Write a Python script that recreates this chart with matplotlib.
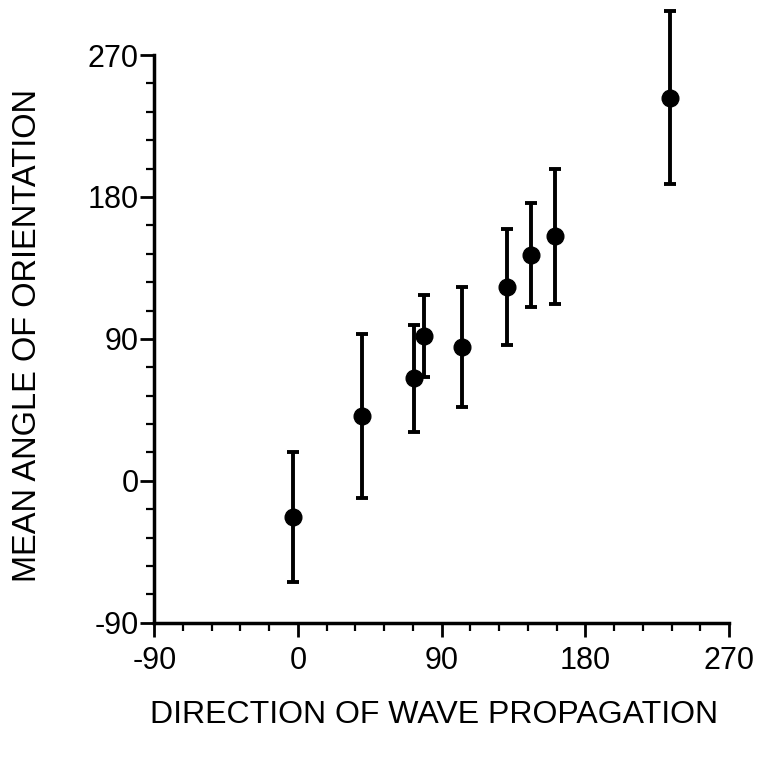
import numpy as np
import matplotlib.pyplot as plt
from matplotlib.ticker import MultipleLocator

# direction of wave propagation (deg) vs mean angle of orientation (deg)
direction = [-3, 40, 73, 79, 103, 131, 146, 161, 233]
mean_angle = [-23, 41, 65, 92, 85, 123, 143, 155, 243]
err = [41, 52, 34, 26, 38, 37, 33, 43, 55]

ticks = [-90, 0, 90, 180, 270]

plt.rcParams['font.family'] = ['Liberation Sans', 'DejaVu Sans']
plt.rcParams['axes.unicode_minus'] = False

fig = plt.figure(figsize=(7.57, 7.63), dpi=100)
ax = fig.add_axes([0.2038, 0.1839, 0.7592, 0.7439])

ax.errorbar(direction, mean_angle, yerr=err, fmt='o', color='black',
            markersize=12, elinewidth=2.8, capsize=4.5, capthick=2.8,
            clip_on=False)

ax.set_xlim(-90, 270)
ax.set_ylim(-90, 270)
ax.set_xticks(ticks)
ax.set_yticks(ticks)
ax.xaxis.set_minor_locator(MultipleLocator(18))
ax.yaxis.set_minor_locator(MultipleLocator(18))

for side in ['top', 'right']:
    ax.spines[side].set_visible(False)
for side in ['left', 'bottom']:
    ax.spines[side].set_linewidth(2.5)

ax.tick_params(which='major', direction='out', length=10, width=2, labelsize=22)
ax.tick_params(which='minor', direction='out', length=5.5, width=1.6)
ax.tick_params(axis='y', which='major', pad=1)
ax.tick_params(axis='x', which='major', pad=7)

ax.set_xlabel('DIRECTION OF WAVE PROPAGATION', fontsize=23)
ax.set_ylabel('MEAN ANGLE OF ORIENTATION', fontsize=23.5)
ax.xaxis.label.set_va('center')
ax.yaxis.label.set_va('center')
ax.xaxis.set_label_coords(0.4876, -0.1626)
ax.yaxis.set_label_coords(-0.2198, 0.5068)

fig.savefig('out.png', dpi=100)
